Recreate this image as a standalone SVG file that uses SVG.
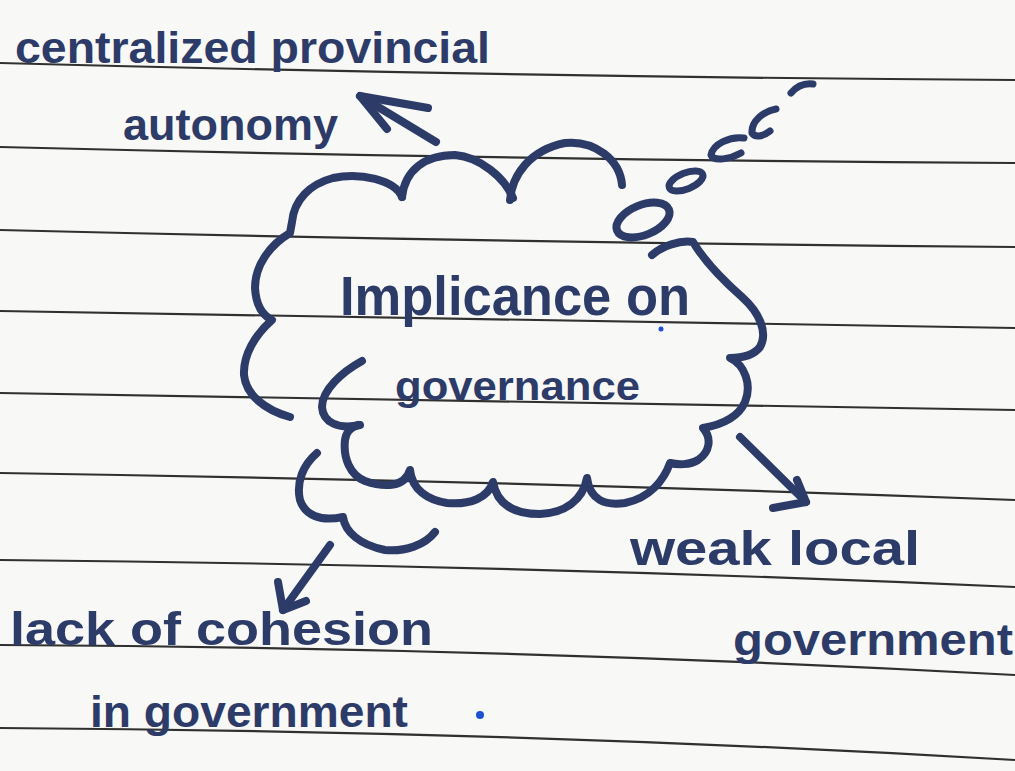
<svg xmlns="http://www.w3.org/2000/svg" width="1015" height="771" viewBox="0 0 1015 771">
<style>
.paper{fill:#f8f8f7}
.rule{fill:none;stroke:#303030;stroke-width:2.2}
.ink{fill:none;stroke:#2d3b68;stroke-width:8;stroke-linecap:round;stroke-linejoin:round}
.thin{stroke-width:7}
.lbl{font-family:"Liberation Sans",Arial,sans-serif;font-weight:bold;fill:#2d3b68}
.dot{fill:#1f4fd6}
</style>
<rect class="paper" x="0" y="0" width="1015" height="771"/>
<g id="ruled-lines">
<path class="rule" d="M0,63 Q520,77 1015,80"/>
<path class="rule" d="M0,147 Q520,160 1015,163"/>
<path class="rule" d="M0,230 Q520,243 1015,247"/>
<path class="rule" d="M0,311 Q520,320 1015,328"/>
<path class="rule" d="M0,393 Q520,402 1015,410"/>
<path class="rule" d="M0,473 Q520,481 1015,500"/>
<path class="rule" d="M0,560 Q520,565 1015,587"/>
<path class="rule" d="M0,645 Q520,648 1015,675"/>
<path class="rule" d="M0,728 Q520,731 1015,760"/>
</g>
<g id="node-center">
<path class="ink" d="M402,197 C395,180 360,172 333,178 C310,184 294,200 292,222 L290,233 C270,245 255,265 255,288 C256,305 262,315 272,320 C255,335 243,355 244,375 C246,395 265,410 290,417"/>
<path class="ink" d="M402,197 C405,170 425,155 455,155 C480,157 505,178 513,198"/>
<path class="ink" d="M510,200 C512,175 530,150 565,143 C595,140 620,160 622,185"/>
<ellipse class="ink" cx="643" cy="220" rx="28" ry="15" transform="rotate(-22 643 220)"/>
<ellipse class="ink thin" cx="686" cy="181" rx="18" ry="8" transform="rotate(-22 686 181)"/>
<path class="ink thin" d="M744,138 C730,136 713,144 711,155 C714,162 730,159 741,153"/>
<path class="ink thin" d="M776,109 C764,111 751,121 752,133 C756,139 765,135 770,131"/>
<path class="ink thin" d="M791,93 C797,86 805,83 813,84"/>
<path class="ink" d="M652,255 C662,246 680,240 693,242 C705,262 725,282 742,297 C760,313 768,333 760,347 C754,355 742,358 730,358 C745,365 752,385 745,402 C738,418 720,425 703,428 C712,438 710,452 698,460 C690,465 678,465 670,463 C664,480 650,498 625,503 C605,506 590,500 587,478 C583,500 565,513 540,514 C515,514 497,505 493,482 C488,498 470,505 447,503 C428,500 412,490 410,470 C405,487 385,488 365,481 C350,475 343,458 345,440 C346,432 350,428 358,425"/>
<path class="ink" d="M362,361 C342,372 322,390 322,407 C323,422 338,430 360,425"/>
<path class="ink" d="M317,453 C303,465 296,482 300,500 C305,515 320,522 343,517 C345,532 360,545 385,550 C405,552 425,545 435,532"/>
<text class="lbl" x="340" y="315" font-size="56" textLength="350" lengthAdjust="spacingAndGlyphs">Implicance on</text>
<text class="lbl" x="395" y="400" font-size="40" textLength="245" lengthAdjust="spacingAndGlyphs">governance</text>
<circle class="dot" cx="661" cy="329" r="2.5"/>
</g>
<g id="node-top">
<text class="lbl" x="15" y="63" font-size="44" textLength="475" lengthAdjust="spacingAndGlyphs">centralized provincial</text>
<text class="lbl" x="123" y="140" font-size="44" textLength="215" lengthAdjust="spacingAndGlyphs">autonomy</text>
</g>
<g id="node-right">
<text class="lbl" x="630" y="565" font-size="48" textLength="290" lengthAdjust="spacingAndGlyphs">weak local</text>
<text class="lbl" x="733" y="655" font-size="44" textLength="280" lengthAdjust="spacingAndGlyphs">government</text>
</g>
<g id="node-bottom">
<text class="lbl" x="10" y="645" font-size="46" textLength="423" lengthAdjust="spacingAndGlyphs">lack of cohesion</text>
<text class="lbl" x="90" y="727" font-size="44" textLength="318" lengthAdjust="spacingAndGlyphs">in government</text>
<circle class="dot" cx="480" cy="715" r="4"/>
</g>
<g id="connectors">
<path class="ink" d="M436,142 L360,96"/>
<path class="ink" d="M387,129 L360,96 L428,108"/>
<path class="ink" d="M740,437 L806,502"/>
<path class="ink" d="M797,480 L806,502 L773,508"/>
<path class="ink" d="M330,545 L283,610"/>
<path class="ink" d="M278,582 L283,610 L306,601"/>
</g>
</svg>
